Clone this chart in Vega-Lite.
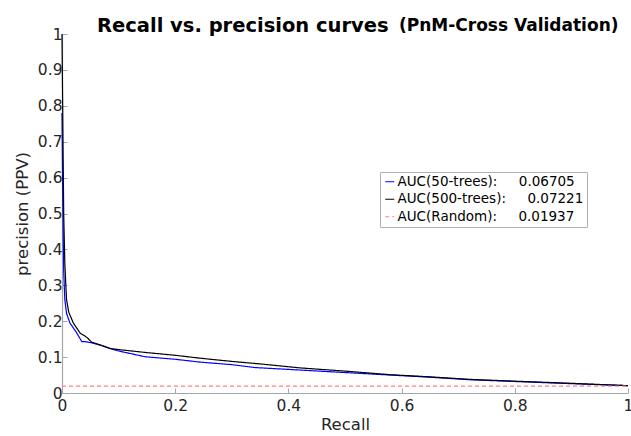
{
  "$schema": "https://vega.github.io/schema/vega-lite/v6.json",
  "width": 566,
  "height": 359,
  "autosize": "none",
  "padding": {"left": 62, "top": 34, "right": 3, "bottom": 43},
  "background": "white",
  "config": {
    "view": {"stroke": null},
    "font": "DejaVu Sans",
    "axis": {"labelFont": "DejaVu Sans", "titleFont": "DejaVu Sans"}
  },
  "title": {
    "text": "Recall vs. precision curves",
    "anchor": "start",
    "dx": 35,
    "offset": -20,
    "font": "DejaVu Sans",
    "fontSize": 19.5,
    "fontWeight": "bold",
    "color": "#000000",
    "frame": "group"
  },
  "datasets": {
    "curves": [
      {"series": "AUC(50-trees):\u00a0\u00a0\u00a0\u00a0\u00a00.06705", "recall": 0.0, "precision": 0.78},
      {"series": "AUC(50-trees):\u00a0\u00a0\u00a0\u00a0\u00a00.06705", "recall": 0.001, "precision": 0.6},
      {"series": "AUC(50-trees):\u00a0\u00a0\u00a0\u00a0\u00a00.06705", "recall": 0.002, "precision": 0.45},
      {"series": "AUC(50-trees):\u00a0\u00a0\u00a0\u00a0\u00a00.06705", "recall": 0.003, "precision": 0.34},
      {"series": "AUC(50-trees):\u00a0\u00a0\u00a0\u00a0\u00a00.06705", "recall": 0.005, "precision": 0.26},
      {"series": "AUC(50-trees):\u00a0\u00a0\u00a0\u00a0\u00a00.06705", "recall": 0.008, "precision": 0.222},
      {"series": "AUC(50-trees):\u00a0\u00a0\u00a0\u00a0\u00a00.06705", "recall": 0.014, "precision": 0.195},
      {"series": "AUC(50-trees):\u00a0\u00a0\u00a0\u00a0\u00a00.06705", "recall": 0.025, "precision": 0.17},
      {"series": "AUC(50-trees):\u00a0\u00a0\u00a0\u00a0\u00a00.06705", "recall": 0.035, "precision": 0.143},
      {"series": "AUC(50-trees):\u00a0\u00a0\u00a0\u00a0\u00a00.06705", "recall": 0.041, "precision": 0.143},
      {"series": "AUC(50-trees):\u00a0\u00a0\u00a0\u00a0\u00a00.06705", "recall": 0.052, "precision": 0.14},
      {"series": "AUC(50-trees):\u00a0\u00a0\u00a0\u00a0\u00a00.06705", "recall": 0.067, "precision": 0.134},
      {"series": "AUC(50-trees):\u00a0\u00a0\u00a0\u00a0\u00a00.06705", "recall": 0.085, "precision": 0.124},
      {"series": "AUC(50-trees):\u00a0\u00a0\u00a0\u00a0\u00a00.06705", "recall": 0.1, "precision": 0.117},
      {"series": "AUC(50-trees):\u00a0\u00a0\u00a0\u00a0\u00a00.06705", "recall": 0.147, "precision": 0.101},
      {"series": "AUC(50-trees):\u00a0\u00a0\u00a0\u00a0\u00a00.06705", "recall": 0.2, "precision": 0.094},
      {"series": "AUC(50-trees):\u00a0\u00a0\u00a0\u00a0\u00a00.06705", "recall": 0.244, "precision": 0.086},
      {"series": "AUC(50-trees):\u00a0\u00a0\u00a0\u00a0\u00a00.06705", "recall": 0.3, "precision": 0.079},
      {"series": "AUC(50-trees):\u00a0\u00a0\u00a0\u00a0\u00a00.06705", "recall": 0.34, "precision": 0.071},
      {"series": "AUC(50-trees):\u00a0\u00a0\u00a0\u00a0\u00a00.06705", "recall": 0.42, "precision": 0.064},
      {"series": "AUC(50-trees):\u00a0\u00a0\u00a0\u00a0\u00a00.06705", "recall": 0.5, "precision": 0.057},
      {"series": "AUC(50-trees):\u00a0\u00a0\u00a0\u00a0\u00a00.06705", "recall": 0.58, "precision": 0.05},
      {"series": "AUC(50-trees):\u00a0\u00a0\u00a0\u00a0\u00a00.06705", "recall": 0.65, "precision": 0.044},
      {"series": "AUC(50-trees):\u00a0\u00a0\u00a0\u00a0\u00a00.06705", "recall": 0.72, "precision": 0.037},
      {"series": "AUC(50-trees):\u00a0\u00a0\u00a0\u00a0\u00a00.06705", "recall": 0.8, "precision": 0.032},
      {"series": "AUC(50-trees):\u00a0\u00a0\u00a0\u00a0\u00a00.06705", "recall": 0.9, "precision": 0.026},
      {"series": "AUC(50-trees):\u00a0\u00a0\u00a0\u00a0\u00a00.06705", "recall": 1.0, "precision": 0.0204},
      {"series": "AUC(500-trees):\u00a0\u00a0\u00a0\u00a0\u00a00.07221", "recall": 0.0, "precision": 1.0},
      {"series": "AUC(500-trees):\u00a0\u00a0\u00a0\u00a0\u00a00.07221", "recall": 0.001, "precision": 0.83},
      {"series": "AUC(500-trees):\u00a0\u00a0\u00a0\u00a0\u00a00.07221", "recall": 0.002, "precision": 0.66},
      {"series": "AUC(500-trees):\u00a0\u00a0\u00a0\u00a0\u00a00.07221", "recall": 0.003, "precision": 0.5},
      {"series": "AUC(500-trees):\u00a0\u00a0\u00a0\u00a0\u00a00.07221", "recall": 0.005, "precision": 0.36},
      {"series": "AUC(500-trees):\u00a0\u00a0\u00a0\u00a0\u00a00.07221", "recall": 0.008, "precision": 0.26},
      {"series": "AUC(500-trees):\u00a0\u00a0\u00a0\u00a0\u00a00.07221", "recall": 0.012, "precision": 0.225},
      {"series": "AUC(500-trees):\u00a0\u00a0\u00a0\u00a0\u00a00.07221", "recall": 0.02, "precision": 0.195},
      {"series": "AUC(500-trees):\u00a0\u00a0\u00a0\u00a0\u00a00.07221", "recall": 0.032, "precision": 0.167},
      {"series": "AUC(500-trees):\u00a0\u00a0\u00a0\u00a0\u00a00.07221", "recall": 0.044, "precision": 0.155},
      {"series": "AUC(500-trees):\u00a0\u00a0\u00a0\u00a0\u00a00.07221", "recall": 0.052, "precision": 0.142},
      {"series": "AUC(500-trees):\u00a0\u00a0\u00a0\u00a0\u00a00.07221", "recall": 0.067, "precision": 0.134},
      {"series": "AUC(500-trees):\u00a0\u00a0\u00a0\u00a0\u00a00.07221", "recall": 0.085, "precision": 0.124},
      {"series": "AUC(500-trees):\u00a0\u00a0\u00a0\u00a0\u00a00.07221", "recall": 0.1, "precision": 0.121},
      {"series": "AUC(500-trees):\u00a0\u00a0\u00a0\u00a0\u00a00.07221", "recall": 0.147, "precision": 0.113},
      {"series": "AUC(500-trees):\u00a0\u00a0\u00a0\u00a0\u00a00.07221", "recall": 0.2, "precision": 0.105},
      {"series": "AUC(500-trees):\u00a0\u00a0\u00a0\u00a0\u00a00.07221", "recall": 0.244, "precision": 0.097},
      {"series": "AUC(500-trees):\u00a0\u00a0\u00a0\u00a0\u00a00.07221", "recall": 0.3, "precision": 0.088},
      {"series": "AUC(500-trees):\u00a0\u00a0\u00a0\u00a0\u00a00.07221", "recall": 0.35, "precision": 0.081},
      {"series": "AUC(500-trees):\u00a0\u00a0\u00a0\u00a0\u00a00.07221", "recall": 0.42, "precision": 0.07},
      {"series": "AUC(500-trees):\u00a0\u00a0\u00a0\u00a0\u00a00.07221", "recall": 0.5, "precision": 0.061},
      {"series": "AUC(500-trees):\u00a0\u00a0\u00a0\u00a0\u00a00.07221", "recall": 0.58, "precision": 0.051},
      {"series": "AUC(500-trees):\u00a0\u00a0\u00a0\u00a0\u00a00.07221", "recall": 0.65, "precision": 0.045},
      {"series": "AUC(500-trees):\u00a0\u00a0\u00a0\u00a0\u00a00.07221", "recall": 0.72, "precision": 0.038},
      {"series": "AUC(500-trees):\u00a0\u00a0\u00a0\u00a0\u00a00.07221", "recall": 0.8, "precision": 0.033},
      {"series": "AUC(500-trees):\u00a0\u00a0\u00a0\u00a0\u00a00.07221", "recall": 0.9, "precision": 0.027},
      {"series": "AUC(500-trees):\u00a0\u00a0\u00a0\u00a0\u00a00.07221", "recall": 1.0, "precision": 0.0204},
      {"series": "AUC(Random):\u00a0\u00a0\u00a0\u00a0\u00a00.01937", "recall": 0.0, "precision": 0.01937},
      {"series": "AUC(Random):\u00a0\u00a0\u00a0\u00a0\u00a00.01937", "recall": 1.0, "precision": 0.01937}
    ]
  },
  "data": {"name": "curves"},
  "layer": [
    {
      "mark": {"type": "line", "strokeWidth": 1.2},
      "encoding": {
        "x": {
          "field": "recall", "type": "quantitative",
          "scale": {"domain": [0, 1], "nice": false, "zero": false},
          "axis": {
            "values": [0, 0.2, 0.4, 0.6, 0.8, 1],
            "format": "~g",
            "grid": false,
            "title": "Recall",
            "titleFontSize": 16.5,
            "titleFontWeight": "normal",
            "titleColor": "#262626",
            "titlePadding": 3,
            "labelFontSize": 15.5,
            "labelColor": "#262626",
            "labelPadding": 10,
            "labelFlush": false,
            "tickSize": -5,
            "tickColor": "#a6a6a6",
            "domainColor": "#a6a6a6",
            "domainWidth": 1.2
          }
        },
        "y": {
          "field": "precision", "type": "quantitative",
          "scale": {"domain": [0, 1], "nice": false, "zero": false},
          "axis": {
            "values": [0, 0.1, 0.2, 0.3, 0.4, 0.5, 0.6, 0.7, 0.8, 0.9, 1],
            "format": "~g",
            "grid": false,
            "title": "precision (PPV)",
            "titleFontSize": 16.5,
            "titleFontWeight": "normal",
            "titleColor": "#262626",
            "titlePadding": 7,
            "labelFontSize": 15.5,
            "labelColor": "#262626",
            "labelPadding": 5,
            "labelFlush": false,
            "tickSize": -5,
            "tickColor": "#a6a6a6",
            "domainColor": "#a6a6a6",
            "domainWidth": 1.2
          }
        },
        "color": {
          "field": "series", "type": "nominal",
          "scale": {
            "domain": ["AUC(50-trees):\u00a0\u00a0\u00a0\u00a0\u00a00.06705", "AUC(500-trees):\u00a0\u00a0\u00a0\u00a0\u00a00.07221", "AUC(Random):\u00a0\u00a0\u00a0\u00a0\u00a00.01937"],
            "range": ["#0000ff", "#000000", "#ff8080"]
          },
          "legend": {
            "title": null,
            "orient": "none",
            "legendX": 318,
            "legendY": 138,
            "symbolType": "stroke",
            "symbolSize": 81,
            "symbolStrokeWidth": 1.2,
            "labelFont": "DejaVu Sans",
            "labelFontSize": 13.5,
            "labelColor": "#000000",
            "labelOffset": 1,
            "rowPadding": 2.5,
            "padding": 3,
            "strokeColor": "#b0b0b0",
            "fillColor": "#ffffff",
            "labelLimit": 400
          }
        },
        "strokeDash": {
          "field": "series", "type": "nominal",
          "scale": {
            "domain": ["AUC(50-trees):\u00a0\u00a0\u00a0\u00a0\u00a00.06705", "AUC(500-trees):\u00a0\u00a0\u00a0\u00a0\u00a00.07221", "AUC(Random):\u00a0\u00a0\u00a0\u00a0\u00a00.01937"],
            "range": [[1, 0], [1, 0], [4, 3]]
          },
          "legend": null
        }
      }
    },
    {
      "transform": [{"filter": "datum.recall == 0 && datum.precision < 0.05"}],
      "mark": {"type": "rule", "opacity": 0},
      "encoding": {
        "x": {
          "field": "recall", "type": "quantitative",
          "scale": {"domain": [0, 1], "nice": false, "zero": false},
          "axis": {
            "orient": "top",
            "domain": false,
            "ticks": false,
            "labels": false,
            "grid": false,
            "title": "(PnM-Cross Validation)",
            "titleFont": "DejaVu Sans",
            "titleFontSize": 17,
            "titleFontWeight": "bold",
            "titleColor": "#000000",
            "titleAnchor": "end",
            "titleAlign": "right",
            "titleBaseline": "alphabetic",
            "titleX": 556,
            "titleY": -4
          }
        }
      }
    }
  ],
  "resolve": {"axis": {"x": "independent"}}
}
